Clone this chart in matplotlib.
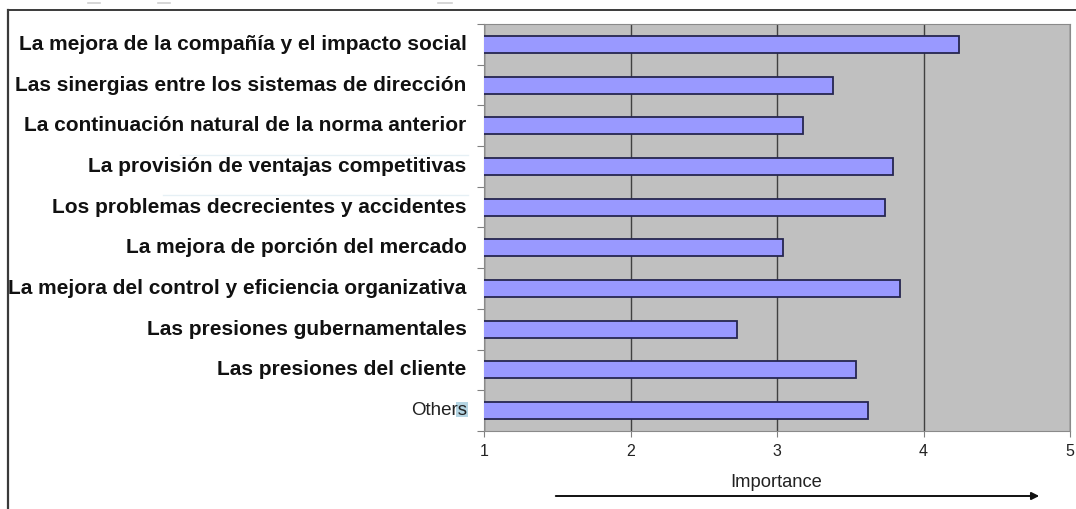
import matplotlib
matplotlib.use("Agg")
import matplotlib.pyplot as plt
import matplotlib.transforms as mtransforms
from matplotlib.lines import Line2D
from matplotlib.patches import Rectangle, FancyArrowPatch
import numpy as np

categories = [
    "La mejora de la compañía y el impacto social",
    "Las sinergias entre los sistemas de dirección",
    "La continuación natural de la norma anterior",
    "La provisión de ventajas competitivas",
    "Los problemas decrecientes y accidentes",
    "La mejora de porción del mercado",
    "La mejora del control y eficiencia organizativa",
    "Las presiones gubernamentales",
    "Las presiones del cliente",
    "Others",
]
importance = [4.24, 3.38, 3.18, 3.79, 3.74, 3.04, 3.84, 2.73, 3.54, 3.62]
x_ticks = [1, 2, 3, 4, 5]
x_label = "Importance"

W, H = 1076, 510
fig = plt.figure(figsize=(W / 100, H / 100), dpi=100)
fig.patch.set_facecolor("white")

ax = fig.add_axes([484 / W, 1 - 432 / H, (1070 - 484) / W, (432 - 25) / H])
ax.set_facecolor("#c0c0c0")

y = np.arange(len(categories))
ax.barh(y, importance, height=0.42, color="#9999ff",
        edgecolor="#262650", linewidth=1.3, zorder=3)

ax.set_xlim(x_ticks[0], x_ticks[-1])
ax.set_ylim(len(categories) - 0.5, -0.5)

# vertical gridlines
ax.set_axisbelow(True)
ax.set_xticks(x_ticks)
ax.xaxis.grid(True, color="#404040", linewidth=1.0)
ax.tick_params(axis="x", length=4, width=0.8, color="#808080",
               labelsize=11.5, labelcolor="#222222", pad=5)

# category labels at bar centres, tick marks at category boundaries
ax.set_yticks(y)
ax.set_yticklabels(categories)
ax.set_yticks(np.arange(-0.5, len(categories), 1.0), minor=True)
ax.tick_params(axis="y", which="major", length=0, pad=12.5)
ax.tick_params(axis="y", which="minor", length=5, width=0.8, color="#808080")
lift = mtransforms.ScaledTranslation(0, 3 / 100, fig.dpi_scale_trans)
for lbl in ax.get_yticklabels():
    lbl.set_fontfamily("Liberation Sans")
    lbl.set_transform(lbl.get_transform() + lift)
    if lbl.get_text() == "Others":
        lbl.set_fontsize(13.5)
        lbl.set_color("#222222")
    else:
        lbl.set_fontweight("bold")
        lbl.set_fontsize(15)
        lbl.set_color("#111111")
for lbl in ax.get_xticklabels():
    lbl.set_fontfamily("Liberation Sans")

for s in ax.spines.values():
    s.set_color("#8a8a8a")
    s.set_linewidth(0.8)

fig.text(776 / W, 1 - 483 / H, x_label, ha="center", va="center",
         fontsize=13.2, family="Liberation Sans", color="#222222")

arrow = FancyArrowPatch((553 / W, 1 - 497 / H), (1042 / W, 1 - 497 / H),
                        transform=fig.transFigure, arrowstyle="-|>",
                        mutation_scale=11, linewidth=1.4, color="#111111")
fig.add_artist(arrow)

# outer frame (top and left)
fig.add_artist(Line2D([8 / W, 1.0], [1 - 11 / H, 1 - 11 / H],
                      transform=fig.transFigure, color="#3a3a3a", linewidth=1.4))
fig.add_artist(Line2D([8 / W, 8 / W], [1 - 11 / H, 0.0],
                      transform=fig.transFigure, color="#3a3a3a", linewidth=1.6))

# small marks above the frame
for x0, x1 in [(88, 100), (158, 170), (438, 452)]:
    fig.add_artist(Line2D([x0 / W, x1 / W], [1 - 4 / H, 1 - 4 / H],
                          transform=fig.transFigure, color="#d0d0d0", linewidth=1.2))

# faint guide lines in the label column
for x0, yy in [(180, 156), (163, 196)]:
    fig.add_artist(Line2D([x0 / W, 468 / W], [1 - yy / H, 1 - yy / H],
                          transform=fig.transFigure, color="#e6f0f5", linewidth=1.0))

# highlight behind the final letter of "Others"
fig.canvas.draw()
renderer = fig.canvas.get_renderer()
others = [l for l in ax.get_yticklabels() if l.get_text() == "Others"][0]
bb = others.get_window_extent(renderer)
probe = fig.text(0, 0, "s", fontsize=13.5, family="Liberation Sans")
sw = probe.get_window_extent(renderer).width
probe.remove()
fig.add_artist(Rectangle(((bb.x1 - sw - 1) / W, (bb.y0 + 1) / H),
                         (sw + 2) / W, (bb.height - 2) / H,
                         transform=fig.transFigure, facecolor="#b5d5e3",
                         edgecolor="none", zorder=-1))

fig.savefig("out.png", dpi=100)
